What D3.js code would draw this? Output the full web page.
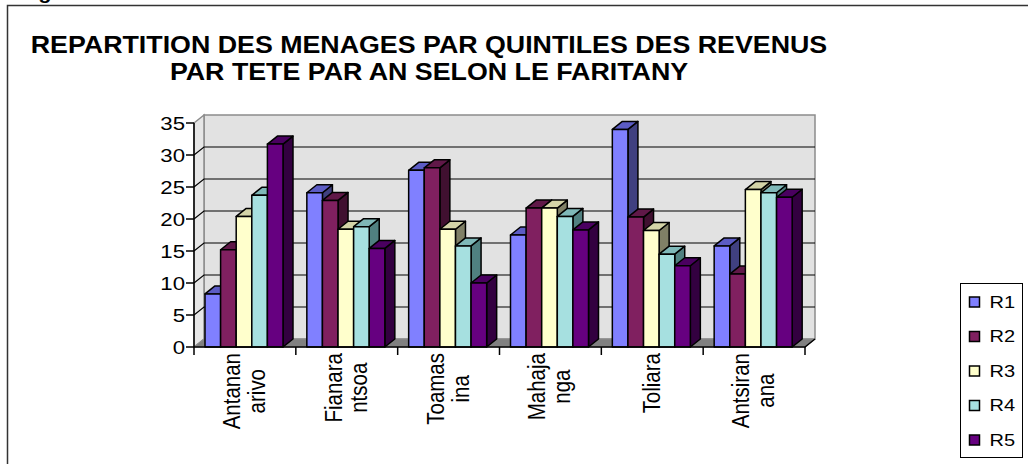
<!DOCTYPE html>
<html>
<head>
<meta charset="utf-8">
<script src="https://cdn.jsdelivr.net/npm/d3@7"></script>
<style>
  body { margin: 0; background: #fff; }
  text { font-family: "Liberation Sans", Arial, sans-serif; fill: #000; }
</style>
</head>
<body>
<div id="chart"></div>
<script>
// Data
var faritany = [["Antanan", "arivo"], ["Fianara", "ntsoa"], ["Toamas", "ina"], ["Mahaja", "nga"], ["Toliara"], ["Antsiran", "ana"]];
var seriesNames = ["R1", "R2", "R3", "R4", "R5"];
var R1 = [8.3, 24.1, 27.6, 17.5, 34.0, 15.8];
var R2 = [15.2, 22.9, 28.0, 21.7, 20.3, 11.4];
var R3 = [20.4, 18.4, 18.4, 21.7, 18.2, 24.6];
var R4 = [23.7, 18.8, 15.8, 20.4, 14.5, 24.1];
var R5 = [31.7, 15.4, 10.0, 18.3, 12.7, 23.4];
var yTicks = [0, 5, 10, 15, 20, 25, 30, 35];

var values = [R1, R2, R3, R4, R5];
var colors = {
  front: ["#8080ff", "#802060", "#ffffcc", "#a6e0e0", "#660080"],
  top:   ["#5c5cc4", "#601848", "#d4d4a8", "#7fb8b8", "#4a0060"],
  side:  ["#404080", "#401030", "#808066", "#508080", "#330040"]
};

var W = 1028, H = 464;
var sx = 1.2; // text in the original is stretched horizontally
var dx = 10, dy = -8; // 3D depth offset

var svg = d3.select("#chart").append("svg")
  .attr("width", W)
  .attr("height", H);

// outer frame (cut off on right / bottom)
svg.append("path")
  .attr("d", "M7.5," + H + " V5.5 H" + W)
  .attr("fill", "none")
  .attr("stroke", "#333")
  .attr("stroke-width", 1.5);

// cut off caption above the frame
svg.append("text")
  .attr("transform", "translate(19,-1.5) scale(" + sx + ",1)")
  .attr("font-size", 18)
  .attr("font-weight", "bold")
  .text("Figure");

// Title
var title = ["REPARTITION DES MENAGES PAR QUINTILES DES REVENUS", "PAR TETE PAR AN SELON LE FARITANY"];
svg.selectAll("text.title")
  .data(title)
  .enter()
  .append("text")
  .attr("class", "title")
  .attr("transform", function (d, i) {
    return "translate(429," + (53 + i * 27) + ") scale(1.165,1)";
  })
  .attr("text-anchor", "middle")
  .attr("font-size", 23)
  .attr("font-weight", "bold")
  .text(function (d) { return d; });

// Scales
var x = d3.scaleBand()
  .domain(d3.range(faritany.length))
  .range([194, 805]);

var xs = d3.scaleBand()
  .domain(d3.range(seriesNames.length))
  .range([11, 89]);

var y = d3.scaleLinear()
  .domain([0, 35])
  .range([347, 123]);

var x0 = x.range()[0], x1 = x.range()[1];
var yb = y(0), yt = y(35);

function poly(pts) {
  return "M" + pts.map(function (p) { return p[0] + "," + p[1]; }).join("L") + "Z";
}

// back wall
svg.append("path")
  .attr("d", poly([[x0 + dx, yt + dy], [x1 + dx, yt + dy], [x1 + dx, yb + dy], [x0 + dx, yb + dy]]))
  .attr("fill", "#e2e2e2")
  .attr("stroke", "#8c8c8c")
  .attr("stroke-width", 1.5);

// left wall
svg.append("path")
  .attr("d", poly([[x0, yt], [x0 + dx, yt + dy], [x0 + dx, yb + dy], [x0, yb]]))
  .attr("fill", "#e6e6e6")
  .attr("stroke", "#8c8c8c")
  .attr("stroke-width", 1.5);

// floor
svg.append("path")
  .attr("d", poly([[x0, yb], [x0 + dx, yb + dy], [x1 + dx, yb + dy], [x1, yb]]))
  .attr("fill", "#808080")
  .attr("stroke", "#8c8c8c")
  .attr("stroke-width", 1);

// gridlines (back wall + left wall)
var grid = svg.append("g");
yTicks.slice(1, -1).forEach(function (t) {
  grid.append("path")
    .attr("d", "M" + x0 + "," + y(t) + "L" + (x0 + dx) + "," + (y(t) + dy) + "H" + (x1 + dx))
    .attr("fill", "none")
    .attr("stroke", "#000")
    .attr("stroke-width", 1.2);
});

// bars
var bars = svg.append("g");
faritany.forEach(function (f, c) {
  seriesNames.forEach(function (s, k) {
    var v = values[k][c];
    var bx = x(c) + xs(k), bw = xs.bandwidth();
    var top = y(v), bot = y(0);
    var g = bars.append("g")
      .attr("stroke", "#000")
      .attr("stroke-width", 1.5)
      .attr("stroke-linejoin", "round");
    g.append("path")
      .attr("d", poly([[bx + bw, top], [bx + bw + dx, top + dy], [bx + bw + dx, bot + dy], [bx + bw, bot]]))
      .attr("fill", colors.side[k]);
    g.append("path")
      .attr("d", poly([[bx, top], [bx + dx, top + dy], [bx + bw + dx, top + dy], [bx + bw, top]]))
      .attr("fill", colors.top[k]);
    g.append("rect")
      .attr("x", bx)
      .attr("y", top)
      .attr("width", bw)
      .attr("height", bot - top)
      .attr("fill", colors.front[k]);
  });
});

// y axis
var ya = svg.append("g");
ya.append("line")
  .attr("x1", x0).attr("x2", x0)
  .attr("y1", yt).attr("y2", yb)
  .attr("stroke", "#000").attr("stroke-width", 1.5);
yTicks.forEach(function (t) {
  ya.append("line")
    .attr("x1", x0 - 8).attr("x2", x0)
    .attr("y1", y(t)).attr("y2", y(t))
    .attr("stroke", "#000").attr("stroke-width", 1.5);
  ya.append("text")
    .attr("transform", "translate(" + (x0 - 9) + "," + (y(t) + 6.7) + ") scale(" + sx + ",1)")
    .attr("text-anchor", "end")
    .attr("font-size", 18.5)
    .text(t);
});

// x axis
var xa = svg.append("g");
xa.append("path")
  .attr("d", "M" + x0 + "," + yb + "H" + x1 + "L" + (x1 + dx) + "," + (yb + dy))
  .attr("fill", "none")
  .attr("stroke", "#000").attr("stroke-width", 1.5);
d3.range(faritany.length + 1).forEach(function (c) {
  var tx = c < faritany.length ? x(c) : x1;
  xa.append("line")
    .attr("x1", tx).attr("x2", tx)
    .attr("y1", yb).attr("y2", yb + 8)
    .attr("stroke", "#000").attr("stroke-width", 1.5);
});

// category labels, rotated, wrapped on two lines
faritany.forEach(function (lines, c) {
  var cx = x(c) + x.bandwidth() / 2;
  var lh = 25;
  var g = xa.append("g");
  var texts = lines.map(function (l) {
    return g.append("text")
      .attr("font-size", 20.5)
      .attr("text-anchor", "middle")
      .text(l);
  });
  var maxLen = d3.max(texts, function (t) { return t.node().getComputedTextLength(); });
  var yc = 353 + maxLen / 2;
  texts.forEach(function (t, i) {
    // baseline position of each line (rotated text, baseline on the right)
    var tx = cx + 7.5 + (i - (lines.length - 1) / 2) * lh;
    t.attr("transform", "translate(" + tx + "," + yc + ") scale(" + sx + ",1) rotate(-90)");
  });
});

// legend
var lg = svg.append("g");
lg.append("rect")
  .attr("x", 960.5).attr("y", 283.5)
  .attr("width", 62).attr("height", 174)
  .attr("fill", "#fff")
  .attr("stroke", "#000").attr("stroke-width", 1);
seriesNames.forEach(function (s, k) {
  var cy = 302 + k * 34.5;
  lg.append("rect")
    .attr("x", 969.5).attr("y", cy - 5)
    .attr("width", 10).attr("height", 10)
    .attr("fill", colors.front[k])
    .attr("stroke", "#000").attr("stroke-width", 1.5);
  lg.append("text")
    .attr("transform", "translate(989.5," + (cy + 5.8) + ") scale(1.25,1)")
    .attr("font-size", 16)
    .text(s);
});
</script>
</body>
</html>
